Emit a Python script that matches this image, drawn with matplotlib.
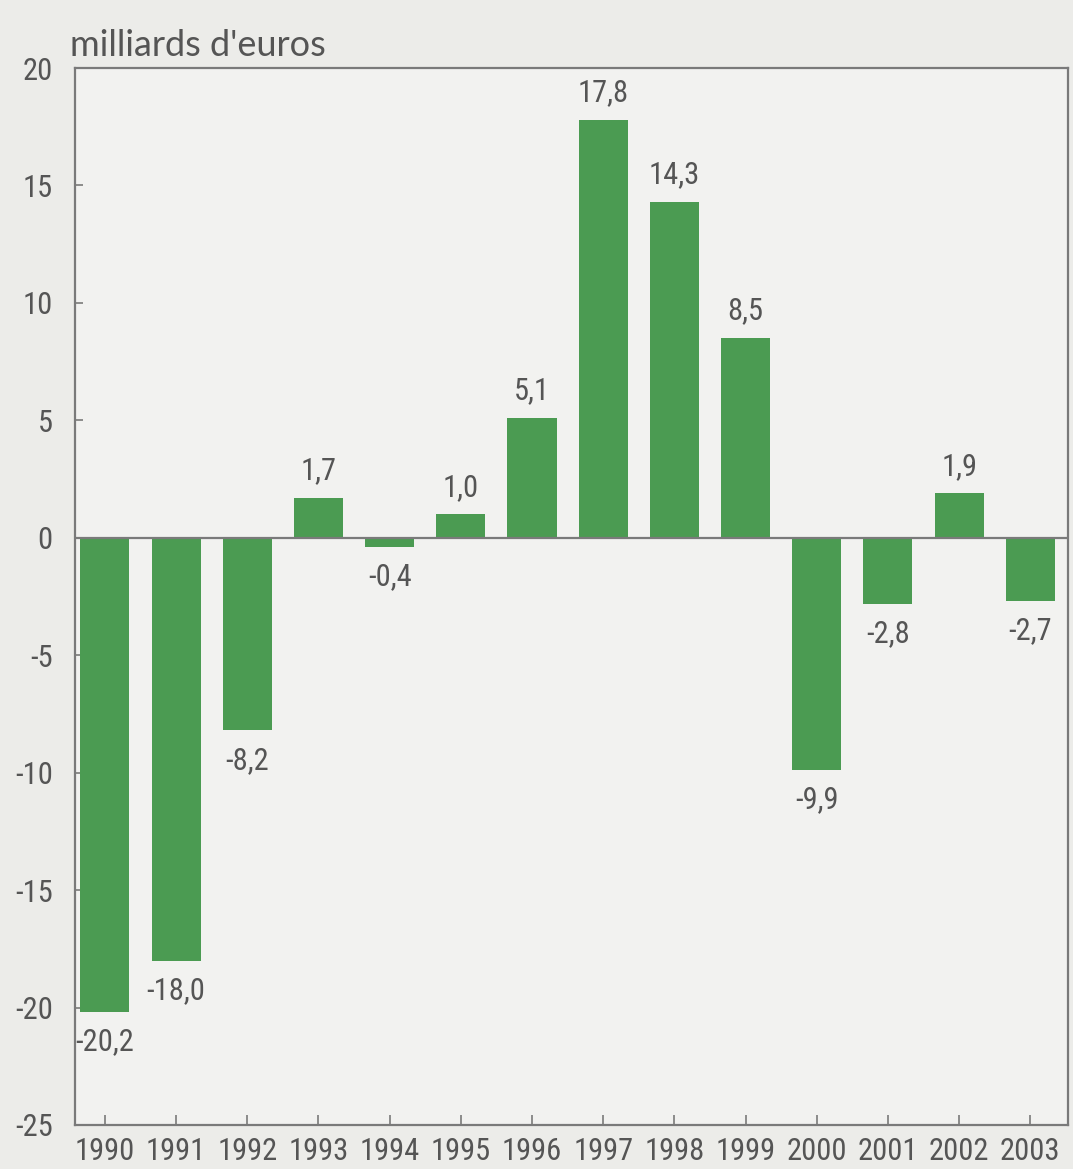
import matplotlib
matplotlib.use("Agg")
import matplotlib.pyplot as plt
from matplotlib import font_manager

# Solde des échanges (milliards d'euros), 1990-2003
years = ["1990", "1991", "1992", "1993", "1994", "1995", "1996",
         "1997", "1998", "1999", "2000", "2001", "2002", "2003"]
values = [-20.2, -18.0, -8.2, 1.7, -0.4, 1.0, 5.1,
          17.8, 14.3, 8.5, -9.9, -2.8, 1.9, -2.7]
y_ticks = [20, 15, 10, 5, 0, -5, -10, -15, -20, -25]
unit_label = "milliards d'euros"

available = {f.name for f in font_manager.fontManager.ttflist}
num_font = next((f for f in ["Liberation Sans Narrow", "Roboto Condensed",
                             "Liberation Sans"] if f in available), "DejaVu Sans")
title_font = next((f for f in ["Lato", "Open Sans", "Noto Sans"] if f in available),
                  "DejaVu Sans")

page_bg = "#ecece9"
panel_bg = "#f2f2f0"
bar_color = "#4b9b52"
ink = "#555555"
line_color = "#7a7a7a"

W, H = 1073, 1169
fig = plt.figure(figsize=(W / 100, H / 100), dpi=100)
fig.patch.set_facecolor(page_bg)

left, right, top, bottom = 75, 1068, 68, 1125
ax = fig.add_axes([left / W, 1 - bottom / H, (right - left) / W, (bottom - top) / H])
ax.set_facecolor(panel_bg)

x = list(range(len(years)))
ax.bar(x, values, width=0.69, color=bar_color, zorder=2)
ax.axhline(0, color=line_color, lw=1.6, zorder=3)

ax.set_xlim(-0.42, 13.53)
ax.set_ylim(-25, 20)
ax.set_yticks(y_ticks)
ax.set_yticklabels([str(t) for t in y_ticks])
ax.set_xticks(x)
ax.set_xticklabels(years)

for lbl in ax.get_yticklabels() + ax.get_xticklabels():
    lbl.set_fontfamily(num_font)
    lbl.set_fontsize(22)
    lbl.set_color(ink)

ax.tick_params(axis="y", direction="in", length=6, width=1.2, color=line_color, pad=16)
ax.tick_params(axis="x", direction="in", length=7, width=1.2, color=line_color, pad=9)

for side in ["left", "right", "top", "bottom"]:
    ax.spines[side].set_color(line_color)
    ax.spines[side].set_linewidth(1.6)

# Value labels, written with a decimal comma
for xi, v in zip(x, values):
    txt = f"{v:.1f}".replace(".", ",")
    if v >= 0:
        ax.annotate(txt, (xi, v), xytext=(0, 9), textcoords="offset points",
                    ha="center", va="bottom", fontsize=22, color=ink,
                    fontfamily=num_font, zorder=4)
    else:
        ax.annotate(txt, (xi, v), xytext=(0, -11), textcoords="offset points",
                    ha="center", va="top", fontsize=22, color=ink,
                    fontfamily=num_font, zorder=4)

fig.text(70 / W, 1 - 45 / H, unit_label, ha="left", va="center",
         fontsize=26, color=ink, fontfamily=title_font)

fig.savefig("out.png", dpi=100, facecolor=page_bg)
